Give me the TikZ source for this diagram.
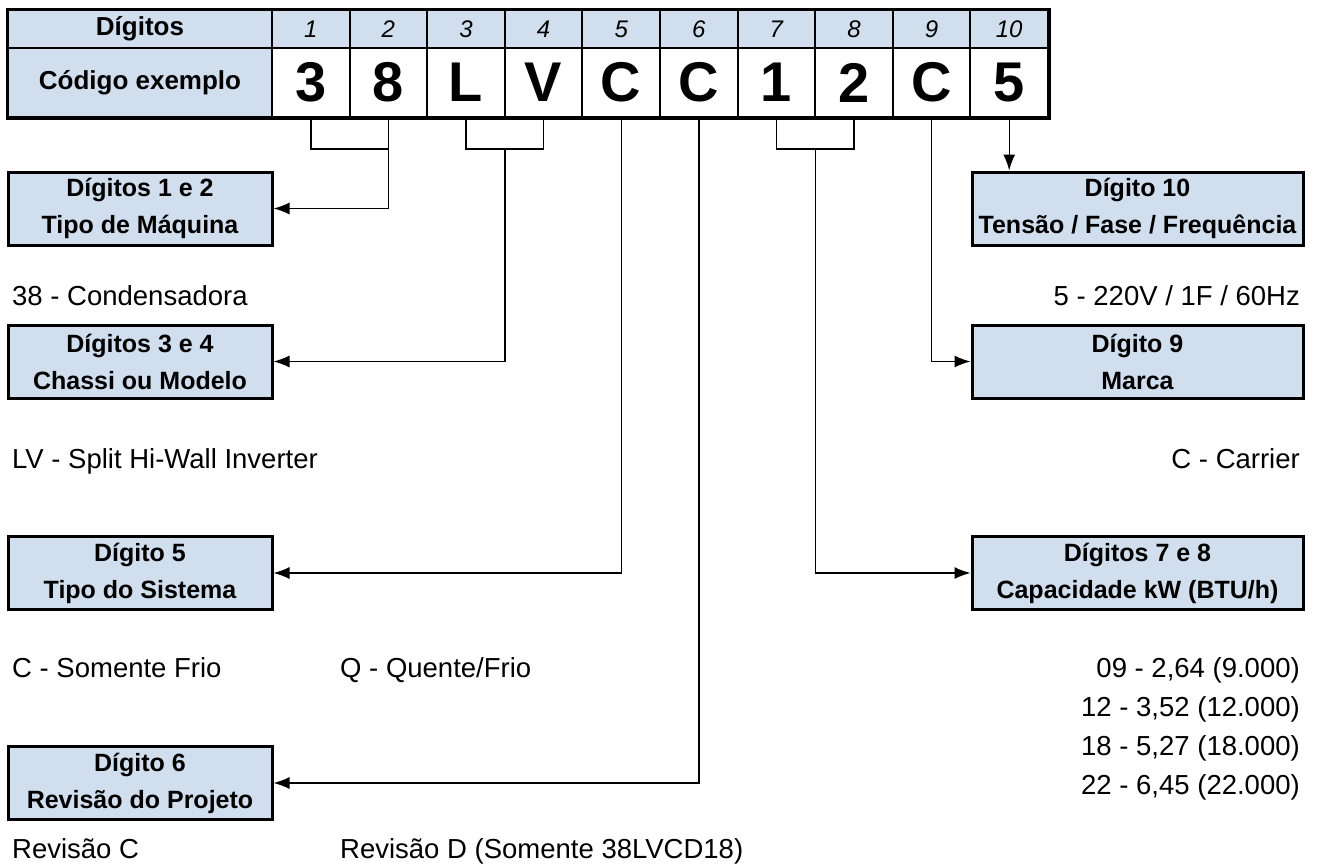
\documentclass[tikz,border=0pt]{standalone}
\usepackage{fontspec}
\setmainfont{Liberation Sans}
\usetikzlibrary{arrows.meta,calc,positioning}
\definecolor{lightblue}{RGB}{208,222,238}

\begin{document}
\begin{tikzpicture}[x=1pt, y=-1pt,
    headcell/.style={draw, line width=2pt, fill=lightblue, minimum width=264pt, inner sep=0pt, font=\fontsize{26}{30}\selectfont\bfseries},
    numcell/.style={draw, line width=2pt, fill=lightblue, minimum width=77.6pt, minimum height=38pt, inner sep=0pt, font=\fontsize{24}{28}\selectfont\itshape},
    codecell/.style={draw, line width=2pt, fill=white, minimum width=77.6pt, minimum height=69pt, inner sep=0pt, font=\fontsize{56}{60}\selectfont\bfseries},
    infobox/.style={draw, line width=3pt, fill=lightblue, minimum height=73pt, inner sep=0pt, align=center, font=\fontsize{25}{37}\selectfont\bfseries},
    link/.style={line width=1.4pt},
    linkarrow/.style={line width=1.4pt, -{Latex[length=16pt,width=12pt]}},
    desc/.style={inner sep=0pt, font=\fontsize{27.5}{33}\selectfont}]
        \useasboundingbox (0,0) rectangle (1317,863);
        % Draw the header column of the table
        \node[headcell, minimum height=38pt] (hdr1) at (140,29) {Dígitos};
        \node[headcell, minimum height=69pt] (hdr2) at (140,82.5) {Código exemplo};
        % Draw the digit positions and the example code
        \foreach \i/\c in {1/3, 2/8, 3/L, 4/V, 5/C, 6/C, 7/1, 8/2, 9/C, 10/5} {
            % Compute x of the column centre
            \pgfmathsetmacro{\xc}{272+77.6*(\i-0.5)}
            \node[numcell] (num\i) at (\xc,29) {\i};
            \node[codecell] (code\i) at (\xc,82.5) {\c};
          }
        \draw[line width=3pt] (hdr1.north west) rectangle (code10.south east);

        % Draw the description boxes
        \node[infobox, minimum width=264pt] (box12) at (140,208.5) {Dígitos 1 e 2\\Tipo de Máquina};
        \node[infobox, minimum width=264pt] (box34) at (140,361.5) {Dígitos 3 e 4\\Chassi ou Modelo};
        \node[infobox, minimum width=264pt] (box5) at (140,573) {Dígito 5\\Tipo do Sistema};
        \node[infobox, minimum width=264pt] (box6) at (140,783) {Dígito 6\\Revisão do Projeto};
        \node[infobox, minimum width=331pt] (box10) at (1137.5,208.5) {Dígito 10\\Tensão / Fase / Frequência};
        \node[infobox, minimum width=331pt] (box9) at (1137.5,361.5) {Dígito 9\\Marca};
        \node[infobox, minimum width=331pt] (box78) at (1137.5,573) {Dígitos 7 e 8\\Capacidade kW (BTU/h)};

        % Draw the brackets joining two digits
        \coordinate (b12) at ($(code2.south)+(0,31)$);
        \coordinate (b34) at ($(code3.south)!0.5!(code4.south)+(0,31)$);
        \coordinate (b78) at ($(code7.south)!0.5!(code8.south)+(0,31)$);
        \draw[link] (code1.south) |- (b12) -- (code2.south);
        \draw[link] (code3.south) |- (b34) -| (code4.south);
        \draw[link] (code7.south) |- (b78) -| (code8.south);

        % Draw connecting arrows
        \draw[linkarrow] (b12) |- (box12.east);
        \draw[linkarrow] (b34) |- (box34.east);
        \draw[linkarrow] (code5.south) |- (box5.east);
        \draw[linkarrow] (code6.south) |- (box6.east);
        \draw[linkarrow] (b78) |- (box78.west);
        \draw[linkarrow] (code9.south) |- (box9.west);
        \draw[linkarrow] (code10.south) -- (code10.south |- box10.north);

        % Draw the meaning of each code
        \node[desc, anchor=base west] (t12) at (12,305) {38 - Condensadora};
        \node[desc, anchor=base west] (t34) at (12,468) {LV - Split Hi-Wall Inverter};
        \node[desc, anchor=base west] (t5a) at (12,677) {C - Somente Frio};
        \node[desc, anchor=base west] (t5b) at (340,677) {Q - Quente/Frio};
        \node[desc, anchor=base west] (t6a) at (12,858) {Revisão C};
        \node[desc, anchor=base west] (t6b) at (340,858) {Revisão D (Somente 38LVCD18)};
        \node[desc, anchor=base east] (t10) at (1300,305) {5 - 220V / 1F / 60Hz};
        \node[desc, anchor=base east] (t9) at (1300,468) {C - Carrier};
        \foreach \k/\txt in {0/{09 - 2,64 (9.000)}, 1/{12 - 3,52 (12.000)}, 2/{18 - 5,27 (18.000)}, 3/{22 - 6,45 (22.000)}} {
            \node[desc, anchor=base east] (t78\k) at (1300,{677+39*\k}) {\txt};
          }
      \end{tikzpicture}
\end{document}
